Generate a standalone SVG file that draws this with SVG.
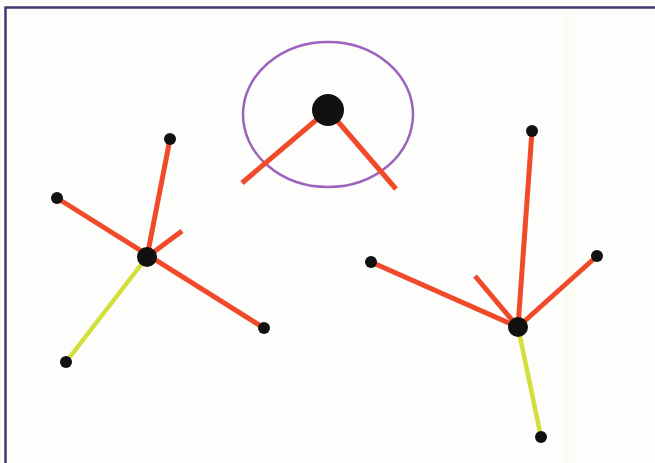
<svg xmlns="http://www.w3.org/2000/svg" width="655" height="463" viewBox="0 0 655 463">
<style>
.red{stroke:#f04a2a;stroke-width:5;stroke-linecap:butt;fill:none}
.yel{stroke:#d2e03a;stroke-width:4.5;fill:none}
.hub{fill:#111}
.leaf{fill:#111}
</style>
<rect x="0" y="0" width="655" height="463" fill="#fdfdfc"/>
<rect x="564" y="8" width="12" height="455" fill="#fcfcf4"/>
<path d="M5.5 463 V7.5 H655" fill="none" stroke="#3e3a74" stroke-width="2.5"/>
<g id="connectors">
  <ellipse cx="328" cy="114.5" rx="85" ry="72.5" fill="none" stroke="#9c62bc" stroke-width="2.5"/>
  <line class="red" x1="328" y1="110" x2="242" y2="183"/>
  <line class="red" x1="328" y1="110" x2="396" y2="189"/>
  <line class="red" x1="147" y1="257" x2="170" y2="139"/>
  <line class="red" x1="57" y1="198" x2="264" y2="328"/>
  <line class="red" x1="147" y1="257" x2="182" y2="231"/>
  <line class="yel" x1="147" y1="257" x2="66" y2="362"/>
  <line class="red" x1="518" y1="327" x2="532" y2="131"/>
  <line class="red" x1="518" y1="327" x2="371" y2="262"/>
  <line class="red" x1="518" y1="327" x2="597" y2="256"/>
  <line class="red" x1="518" y1="327" x2="475" y2="276"/>
  <line class="yel" x1="518" y1="327" x2="541" y2="437"/>
</g>
<g id="n-top"><circle class="hub" cx="328" cy="110" r="16"/></g>
<g id="n-left"><circle class="hub" cx="147" cy="257" r="10"/></g>
<g id="n-left-a"><circle class="leaf" cx="170" cy="139" r="6"/></g>
<g id="n-left-b"><circle class="leaf" cx="57" cy="198" r="6"/></g>
<g id="n-left-c"><circle class="leaf" cx="264" cy="328" r="6"/></g>
<g id="n-left-d"><circle class="leaf" cx="66" cy="362" r="6"/></g>
<g id="n-right"><circle class="hub" cx="518" cy="327" r="10"/></g>
<g id="n-right-a"><circle class="leaf" cx="532" cy="131" r="6"/></g>
<g id="n-right-b"><circle class="leaf" cx="371" cy="262" r="6"/></g>
<g id="n-right-c"><circle class="leaf" cx="597" cy="256" r="6"/></g>
<g id="n-right-d"><circle class="leaf" cx="541" cy="437" r="6"/></g>
</svg>
